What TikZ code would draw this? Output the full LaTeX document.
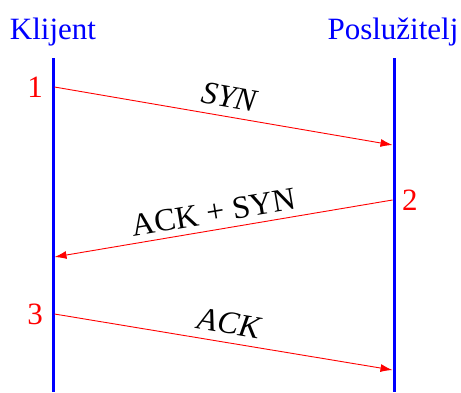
\documentclass[tikz,border=0pt]{standalone}
\usepackage{fontspec}
\setmainfont{Liberation Serif}
\usepackage{xcolor}
\usetikzlibrary{arrows.meta,positioning}
\definecolor{lifeblue}{HTML}{0000FF}
\definecolor{msgred}{HTML}{FF0000}
\tikzset{
  Lifeline/.style={draw=lifeblue, line width=3pt},
  Msg/.style={
    draw=msgred, line width=0.9pt,
    -{Latex[length=12pt,width=8pt]}
  },
  MsgLabel/.style={sloped, above=5pt, pos=0.51, font=\fontsize{32}{32}\selectfont},
  StepNum/.style={text=msgred, font=\fontsize{31}{31}\selectfont},
  Actor/.style={text=lifeblue, anchor=base, font=\fontsize{31}{31}\selectfont}
}

\begin{document}
\begin{tikzpicture}[x=1pt, y=-1pt, line cap=butt, line join=round]
  \useasboundingbox (0,0) rectangle (461,392);

  % Lifelines
  \coordinate (Ktop) at (53,58);
  \coordinate (Kbot) at (53,392);
  \coordinate (Ptop) at (394,58);
  \coordinate (Pbot) at (394,392);
  \draw[Lifeline] (Ktop)--(Kbot);
  \draw[Lifeline] (Ptop)--(Pbot);

  \node[Actor] (klijent) at (53,39) {Klijent};
  \node[Actor] (posluzitelj) at (393,39) {Poslužitelj};

  % Three-way handshake
  \coordinate (K1) at (54.5,87);
  \coordinate (P1) at (392.5,145);
  \coordinate (P2) at (392.5,200);
  \coordinate (K2) at (54.5,257);
  \coordinate (K3) at (54.5,314);
  \coordinate (P3) at (392.5,370);

  \draw[Msg] (K1) -- node[MsgLabel] (syn) {\textit{SYN}} (P1);
  \draw[Msg] (P2) -- node[MsgLabel, above=3pt, pos=0.52] (acksyn) {ACK + SYN} (K2);
  \draw[Msg] (K3) -- node[MsgLabel] (ack) {\textit{ACK}} (P3);

  \node[StepNum, left=8pt of K1] (s1) {1};
  \node[StepNum, right=6pt of P2] (s2) {2};
  \node[StepNum, left=8pt of K3] (s3) {3};
\end{tikzpicture}
\end{document}
